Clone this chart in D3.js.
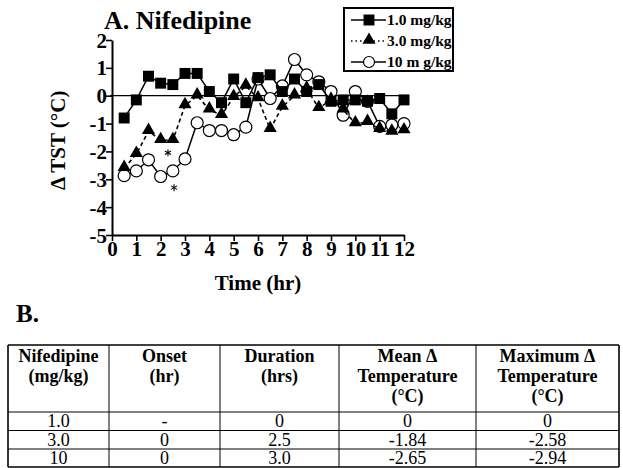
<!DOCTYPE html>
<html>
<head>
<meta charset="utf-8">
<script src="https://cdn.jsdelivr.net/npm/d3@7"></script>
<style>
  body { margin: 0; background: #fff; }
  svg text { font-family: "Liberation Serif", "Times New Roman", Times, "DejaVu Serif", serif; }
</style>
</head>
<body>
<script>
var w = 623; // width of the page
var h = 468; // height of the page
var serif = "'Liberation Serif', 'Times New Roman', Times, 'DejaVu Serif', serif";

// Time points (hr)
var times = [0.5, 1, 1.5, 2, 2.5, 3, 3.5, 4, 4.5, 5, 5.5, 6, 6.5, 7, 7.5, 8, 8.5, 9, 9.5, 10, 10.5, 11, 11.5, 12];

// Change in TST (°C) for each dose
var dose1 = [-0.8, -0.15, 0.7, 0.45, 0.4, 0.8, 0.8, 0.15, -0.25, 0.6, -0.25, 0.65, 0.75, 0.15, 0.6, 0.15, 0.4, -0.2, -0.15, -0.15, -0.2, -0.1, -0.65, -0.15];
var dose3 = [-2.6, -2.1, -1.27, -1.6, -1.6, -0.35, 0.0, -0.5, -0.7, -0.05, 0.35, -0.1, -1.2, -0.4, 0.0, 0.25, -0.45, -0.15, -0.5, -1.0, -0.95, -1.2, -1.3, -1.25];
var dose10 = [-2.87, -2.7, -2.3, -2.9, -2.7, -2.27, -0.97, -1.25, -1.25, -1.4, -1.13, 0.6, -0.1, 0.35, 1.3, 0.75, 0.5, 0.15, -0.7, 0.15, -0.2, -1.1, -1.05, -1.0];

var seriesNames = ["1.0 mg/kg", "3.0 mg/kg", "10 m g/kg"];

// Significance markers (time, value)
var starTimes = [2.3, 2.55];
var starValues = [-2.05, -3.3];

// Axis ticks
var xTicks = [0, 1, 2, 3, 4, 5, 6, 7, 8, 9, 10, 11, 12];
var yTicks = [2, 1, 0, -1, -2, -3, -4, -5];

// Table B
var tableHeader = [["Nifedipine", "(mg/kg)"], ["Onset", "(hr)"], ["Duration", "(hrs)"],
                   ["Mean \u0394", "Temperature", "(\u00B0C)"], ["Maximum \u0394", "Temperature", "(\u00B0C)"]];
var tableDose = ["1.0", "3.0", "10"];
var tableOnset = ["-", "0", "0"];
var tableDuration = ["0", "2.5", "3.0"];
var tableMean = ["0", "-1.84", "-2.65"];
var tableMax = ["0", "-2.58", "-2.94"];

var svg = d3.select("body").append("svg")
    .attr("width", w)
    .attr("height", h)
    .attr("font-family", serif);

// Scales
var xScale = d3.scaleLinear().domain([0, 12]).range([112, 404]);
var yScale = d3.scaleLinear().domain([-5, 2]).range([235, 40]);

// Title
svg.append("text")
    .attr("x", 104).attr("y", 29)
    .style("font-family", serif)
    .style("font-size", "26px").style("font-weight", "bold")
    .text("A. Nifedipine");

// Zero line
svg.append("line")
    .attr("x1", xScale(0) - 2).attr("x2", xScale(12))
    .attr("y1", yScale(0)).attr("y2", yScale(0))
    .attr("stroke", "#000").attr("stroke-width", 1.3);

// Axes
var xAxis = d3.axisBottom(xScale).tickValues(xTicks).tickSize(6).tickSizeOuter(0)
    .tickFormat(function(d) { return String(d); });
var yAxis = d3.axisLeft(yScale).tickValues(yTicks).tickSize(6).tickSizeOuter(0)
    .tickFormat(function(d) { return String(d); });

var gx = svg.append("g")
    .attr("transform", "translate(0," + yScale(-5) + ")")
    .call(xAxis);
var gy = svg.append("g")
    .attr("transform", "translate(" + xScale(0) + ",0)")
    .call(yAxis);

[gx, gy].forEach(function(g) {
    g.attr("font-family", serif);
    g.select(".domain").attr("stroke-width", 2);
    g.selectAll(".tick line").attr("stroke-width", 1.6);
    g.selectAll(".tick text")
        .style("font-family", serif)
        .style("font-size", "21px").style("font-weight", "bold").attr("fill", "#000");
});
gx.selectAll(".tick text").attr("dy", "0.78em").attr("y", 5);
gy.selectAll(".tick text").attr("x", -5).attr("dy", "0.34em");

// Axis labels
svg.append("text")
    .attr("x", 258).attr("y", 290)
    .attr("text-anchor", "middle")
    .style("font-family", serif)
    .style("font-size", "21px").style("font-weight", "bold")
    .text("Time (hr)");

svg.append("text")
    .attr("transform", "translate(65," + yScale(-1.6) + ") rotate(-90)")
    .attr("text-anchor", "middle")
    .style("font-family", serif)
    .style("font-size", "21px").style("font-weight", "bold")
    .text("\u0394 TST (\u00B0C)");

// Lines
var line = d3.line()
    .x(function(d) { return xScale(d[0]); })
    .y(function(d) { return yScale(d[1]); });

function pairs(vals) {
    return times.map(function(t, i) { return [t, vals[i]]; });
}

var triPath = d3.symbol().type(d3.symbolTriangle).size(75);
var sqPath = d3.symbol().type(d3.symbolSquare).size(120);

// 10 mg/kg - open circles
svg.append("path").datum(pairs(dose10))
    .attr("d", line).attr("fill", "none")
    .attr("stroke", "#000").attr("stroke-width", 1.5);
svg.selectAll(".c10").data(pairs(dose10)).join("circle")
    .attr("class", "c10")
    .attr("cx", function(d) { return xScale(d[0]); })
    .attr("cy", function(d) { return yScale(d[1]); })
    .attr("r", 6)
    .attr("fill", "#fff").attr("stroke", "#000").attr("stroke-width", 1.2);

// 3.0 mg/kg - triangles, dashed
svg.append("path").datum(pairs(dose3))
    .attr("d", line).attr("fill", "none")
    .attr("stroke", "#000").attr("stroke-width", 1.6)
    .attr("stroke-dasharray", "4,3");
svg.selectAll(".t3").data(pairs(dose3)).join("path")
    .attr("class", "t3")
    .attr("d", triPath)
    .attr("transform", function(d) { return "translate(" + xScale(d[0]) + "," + (yScale(d[1]) - 1) + ")"; })
    .attr("fill", "#000");

// 1.0 mg/kg - squares
svg.append("path").datum(pairs(dose1))
    .attr("d", line).attr("fill", "none")
    .attr("stroke", "#000").attr("stroke-width", 1.5);
svg.selectAll(".s1").data(pairs(dose1)).join("path")
    .attr("class", "s1")
    .attr("d", sqPath)
    .attr("transform", function(d) { return "translate(" + xScale(d[0]) + "," + yScale(d[1]) + ")"; })
    .attr("fill", "#000");

// Asterisks (drawn as small strokes so no emoji font is picked up)
var starG = svg.selectAll(".star").data(starTimes).join("g")
    .attr("class", "star")
    .attr("transform", function(d, i) { return "translate(" + xScale(d) + "," + yScale(starValues[i]) + ")"; });
[0, 60, 120].forEach(function(a) {
    starG.append("line")
        .attr("x1", 0).attr("y1", -3.5).attr("x2", 0).attr("y2", 3.5)
        .attr("transform", "rotate(" + a + ")")
        .attr("stroke", "#000").attr("stroke-width", 1.1);
});

// Legend
var legend = svg.append("g");
legend.append("rect")
    .attr("x", 344).attr("y", 8).attr("width", 109).attr("height", 63)
    .attr("fill", "#fff").attr("stroke", "#000").attr("stroke-width", 2);

var legendY = [20, 41, 62];
var legendDash = [null, "1.5,3", null];
seriesNames.forEach(function(name, i) {
    var ly = legendY[i];
    legend.append("line")
        .attr("x1", 351).attr("x2", 386).attr("y1", ly).attr("y2", ly)
        .attr("stroke", "#000").attr("stroke-width", 1.5)
        .attr("stroke-dasharray", legendDash[i]);
    if (i === 0) {
        legend.append("path").attr("d", sqPath)
            .attr("transform", "translate(369," + ly + ")").attr("fill", "#000");
    } else if (i === 1) {
        legend.append("path").attr("d", triPath)
            .attr("transform", "translate(369," + (ly - 1) + ")").attr("fill", "#000");
    } else {
        legend.append("circle").attr("cx", 369).attr("cy", ly).attr("r", 5.5)
            .attr("fill", "#fff").attr("stroke", "#000").attr("stroke-width", 1.2);
    }
    legend.append("text")
        .attr("x", 387).attr("y", ly + 5)
        .style("font-family", serif)
        .style("font-size", "15.5px").style("font-weight", "bold")
        .text(name);
});

// Part B
svg.append("text")
    .attr("x", 16).attr("y", 322)
    .style("font-family", serif)
    .style("font-size", "25px").style("font-weight", "bold")
    .text("B.");

var colEdges = [8, 109, 220, 339, 476, 619];
var rowEdges = [345, 412, 430.5, 449, 467];

var table = svg.append("g");
// horizontal rules
table.selectAll(".hrule").data(rowEdges).join("line")
    .attr("x1", colEdges[0]).attr("x2", colEdges[colEdges.length - 1])
    .attr("y1", function(d) { return d; }).attr("y2", function(d) { return d; })
    .attr("stroke", "#000")
    .attr("stroke-width", function(d, i) { return (i === 0 || i === rowEdges.length - 1) ? 1.6 : 1; });
// vertical rules
table.selectAll(".vrule").data(colEdges).join("line")
    .attr("x1", function(d) { return d; }).attr("x2", function(d) { return d; })
    .attr("y1", rowEdges[0]).attr("y2", rowEdges[rowEdges.length - 1])
    .attr("stroke", "#000")
    .attr("stroke-width", function(d, i) { return (i === 0 || i === colEdges.length - 1) ? 1.6 : 1; });

function colMid(i) { return (colEdges[i] + colEdges[i + 1]) / 2; }

tableHeader.forEach(function(lines, i) {
    lines.forEach(function(txt, j) {
        table.append("text")
            .attr("x", colMid(i)).attr("y", rowEdges[0] + 17 + j * 20)
            .attr("text-anchor", "middle")
            .style("font-family", serif)
            .style("font-size", "18px").style("font-weight", "bold")
            .text(txt);
    });
});

var tableCols = [tableDose, tableOnset, tableDuration, tableMean, tableMax];
tableCols.forEach(function(col, i) {
    col.forEach(function(txt, r) {
        table.append("text")
            .attr("x", colMid(i)).attr("y", rowEdges[r + 1] + 15)
            .attr("text-anchor", "middle")
            .style("font-family", serif)
            .style("font-size", "18px")
            .text(txt);
    });
});
</script>
</body>
</html>
